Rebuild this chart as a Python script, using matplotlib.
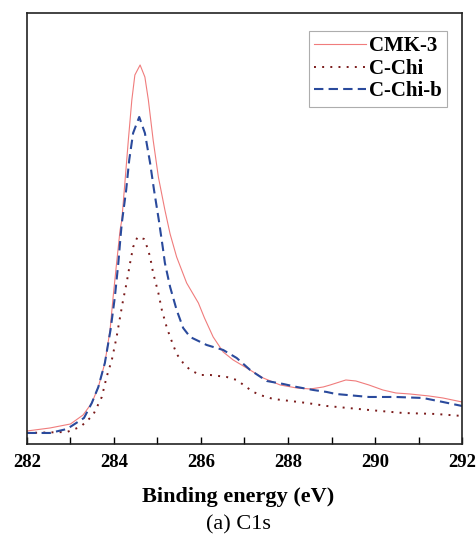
import matplotlib.pyplot as plt
from matplotlib.ticker import MultipleLocator

plt.rcParams['font.family'] = ['Liberation Serif', 'DejaVu Serif']

# C1s spectra, binding energy (eV) vs intensity (a.u.)
cmk3_be = [282.00, 282.53, 283.00, 283.29, 283.49, 283.64, 283.79, 283.91, 283.98, 284.06,
           284.14, 284.18, 284.25, 284.33, 284.41, 284.48, 284.60, 284.71, 284.79, 284.90,
           285.02, 285.17, 285.29, 285.44, 285.67, 285.94, 286.08, 286.28,
           286.51, 286.74, 287.05, 287.43, 287.82, 288.20, 288.51, 288.81, 288.97, 289.33,
           289.56, 289.86, 290.18, 290.48, 290.80, 291.24, 291.40, 291.56, 292.00]
cmk3_int = [13, 16, 20, 29, 41, 57, 81, 114, 147, 181,
            214, 224, 261, 304, 344, 369, 379, 367, 344, 304,
            267, 234, 210, 187, 161, 141, 126, 107,
            92, 84, 76, 66, 59, 56, 55, 57, 59, 64,
            63, 59, 54, 51, 50, 48, 47, 46, 42]

cchi_be = [282.00, 282.92, 283.22, 283.33, 283.52, 283.72, 283.83, 283.95, 284.06, 284.14,
           284.21, 284.29, 284.37, 284.44, 284.54, 284.69, 284.77, 284.83, 284.90, 285.02,
           285.10, 285.21, 285.29, 285.44, 285.59, 285.75, 285.98, 286.21, 286.59, 286.82,
           287.01, 287.20, 287.43, 287.66, 288.05, 288.43, 288.89, 289.86, 290.64, 291.40,
           292.00]
cchi_int = [11, 12, 17, 21, 29, 47, 67, 84, 107, 127,
            144, 161, 181, 197, 207, 205, 196, 187, 171, 151,
            134, 117, 107, 90, 81, 74, 69, 69, 67, 64,
            58, 52, 48, 45, 43, 41, 38, 34, 31, 30,
            28]

cchib_be = [282.00, 282.53, 282.92, 283.31, 283.49, 283.64, 283.79, 283.92, 284.02, 284.10,
            284.15, 284.18, 284.28, 284.35, 284.44, 284.58, 284.71, 284.83, 284.92, 285.03,
            285.12, 285.17, 285.29, 285.44, 285.59, 285.75, 286.13, 286.51, 286.82, 287.13,
            287.51, 287.89, 288.20, 288.58, 288.89, 289.10, 289.86, 290.48, 291.10, 291.56,
            292.00]
cchib_int = [11, 11, 15, 26, 41, 57, 81, 114, 147, 181,
             207, 221, 254, 284, 311, 327, 311, 281, 254, 224,
             197, 181, 157, 134, 116, 107, 99, 94, 86, 74,
             63, 60, 57, 54, 52, 50, 47, 47, 46, 42,
             38]

fig = plt.figure(figsize=(4.76, 5.39), dpi=100)
ax = fig.add_axes([0.0567, 0.1763, 0.9139, 0.7996])

ax.plot(cmk3_be, cmk3_int, color='#f07c7c', lw=0.8, label='CMK-3')
ax.plot(cchi_be, cchi_int, color='#7a1a1a', lw=1.4, linestyle=(0, (1, 3.2)), label='C-Chi')
ax.plot(cchib_be, cchib_int, color='#2a4a9c', lw=1.5, linestyle=(0, (4.5, 2.5)), label='C-Chi-b')

ax.set_xlim(282, 292)
ax.set_ylim(0, 431)
ax.xaxis.set_major_locator(MultipleLocator(2))
ax.xaxis.set_minor_locator(MultipleLocator(1))
ax.set_yticks([])
ax.tick_params(axis='x', which='major', direction='in', length=5, width=1, pad=7)
ax.tick_params(axis='x', which='minor', direction='in', length=5, width=1)
for lab in ax.get_xticklabels():
    lab.set_fontweight('bold')
    lab.set_fontsize(13.5)
for sp in ax.spines.values():
    sp.set_linewidth(1.2)
    sp.set_color('#222222')

leg = ax.legend(loc='upper right', bbox_to_anchor=(0.9655, 0.958), fancybox=False,
                prop={'weight': 'bold', 'size': 15}, handlelength=2.5, handletextpad=0.15,
                borderpad=0.25, labelspacing=0.12, borderaxespad=0)
leg.get_frame().set_edgecolor('#999999')
leg.get_frame().set_linewidth(0.8)

fig.text(0.5, 1 - 497 / 539, 'Binding energy (eV)', ha='center', va='center',
         fontsize=16, fontweight='bold')
fig.text(0.5, 1 - 525 / 539, '(a) C1s', ha='center', va='center', fontsize=16)

fig.savefig('out.png', dpi=100)
